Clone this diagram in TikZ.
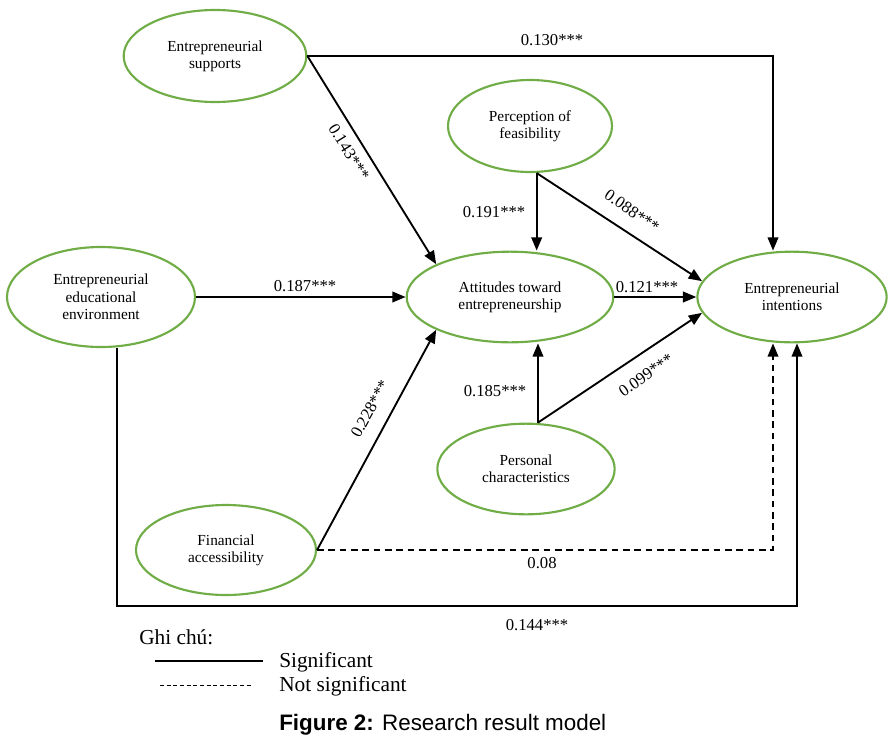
\documentclass[tikz,border=0pt]{standalone}
\usepackage{fontspec}
\setmainfont{Liberation Serif}
\newfontfamily\capfont{Liberation Sans}
\usetikzlibrary{arrows.meta,shapes.geometric}
\definecolor{factorgreen}{RGB}{112,173,71}
\begin{document}
\begin{tikzpicture}[x=0.75pt,y=-0.75pt,factor/.style={ellipse,draw=factorgreen,line width=1.6pt,inner sep=0pt,align=center,font=\fontsize{11.5}{13}\selectfont},path/.style={line width=1.4pt,-{Triangle[length=10pt,width=8pt]}},notsig/.style={dash pattern=on 5pt off 3.5pt},coef/.style={font=\fontsize{12.5}{14}\selectfont,inner sep=1pt},legend/.style={anchor=west,inner sep=0pt,font=\fontsize{16}{18}\selectfont}]
\useasboundingbox (0,0) rectangle (896,743);
% factors
\node[factor,minimum width=137pt,minimum height=69pt] (supp) at (215,56) {Entrepreneurial\\supports};
\node[factor,minimum width=141pt,minimum height=75pt] (edu) at (101,297) {Entrepreneurial\\educational\\environment};
\node[factor,minimum width=123pt,minimum height=69pt] (feas) at (530,126) {Perception of\\feasibility};
\node[factor,minimum width=155pt,minimum height=68pt] (att) at (510,297) {Attitudes toward\\entrepreneurship};
\node[factor,minimum width=142pt,minimum height=68pt] (intent) at (792,297) {Entrepreneurial\\intentions};
\node[factor,minimum width=133pt,minimum height=68pt] (pers) at (526,469) {Personal\\characteristics};
\node[factor,minimum width=135pt,minimum height=67.5pt] (fin) at (226,550) {Financial\\accessibility};
% paths
\coordinate (colL) at (773,548); \coordinate (colR) at (797,606);
\draw[path] (supp.east) -| (colL |- intent.north); \draw[path] (supp.east) -- (att.north west);
\draw[path] (edu.east) -- (att.west); \draw[path] (fin.east) -- (att.south west);
\draw[path] ([xshift=5pt]feas.south) -- ([xshift=5pt]feas.south |- att.north); \draw[path] ([xshift=5pt]feas.south) -- (intent.170);
\draw[path] (att.east) -- (intent.west);
\draw[path] ([xshift=9pt]pers.north) -- ([xshift=9pt]pers.north |- att.south); \draw[path] ([xshift=9pt]pers.north) -- (intent.190);
\draw[path,notsig] (fin.east) -| (colL |- intent.south);
\draw[path] ([xshift=12pt]edu.south) |- (colR) -- (colR |- intent.south);
% coefficients
\node[coef] (c130) at (552,40) {0.130***}; \node[coef,rotate=-58] (c143) at (349,152) {0.143***};
\node[coef] (c187) at (305,286) {0.187***}; \node[coef,rotate=61] (c228) at (370,409) {0.228***};
\node[coef] (c191) at (494,212) {0.191***}; \node[coef,rotate=-35] (c088) at (632,211) {0.088***};
\node[coef] (c121) at (647,287) {0.121***}; \node[coef] (c185) at (495,391) {0.185***};
\node[coef,rotate=35] (c099) at (646,375) {0.099***};
\node[coef] (c08) at (542,563) {0.08}; \node[coef] (c144) at (537,625) {0.144***};
% legend
\node[legend] (note) at (139,637) {Ghi chú:};
\coordinate (sigA) at (155,661); \coordinate (sigB) at (263,661); \coordinate (nsA) at (160,685); \coordinate (nsB) at (253,685);
\draw[line width=1.5pt] (sigA) -- (sigB); \node[legend] (sig) at (279,662) {Significant};
\draw[line width=0.6pt,dash pattern=on 3pt off 2pt] (nsA) -- (nsB); \node[legend] (nsig) at (279,686) {Not significant};
\node[anchor=west,inner sep=0pt,font=\capfont\fontsize{16.8}{19}\selectfont] (cap) at (279,725) {\textbf{Figure 2:} Research result model};
\end{tikzpicture}
\end{document}
